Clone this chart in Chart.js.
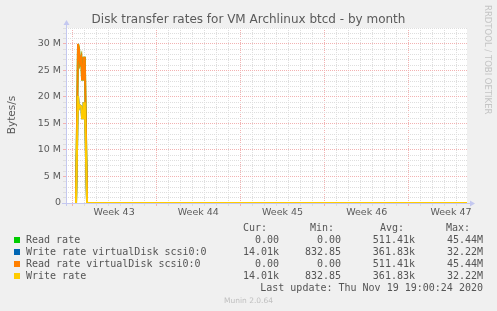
<!DOCTYPE html>
<html>
<head>
<meta charset="utf-8">
<script src="https://cdn.jsdelivr.net/npm/chart.js@4"></script>
<style>
  html, body { margin: 0; padding: 0; background: #f0f0f0; }
  #wrap { position: relative; width: 497px; height: 311px; overflow: hidden; font-family: 'DejaVu Sans', sans-serif; }
  canvas { position: absolute; left: 0; top: 0; }
  .txt { position: absolute; white-space: pre; line-height: 12px; }
  .mono { font-family: 'DejaVu Sans Mono', monospace; font-size: 10px; color: #555555; }
  .r { text-align: right; }
  .sw { position: absolute; width: 6px; height: 6px; }
</style>
</head>
<body>
<div id="wrap">
  <canvas id="graph" width="497" height="311"></canvas>
  <div class="txt" id="title" style="left:0;width:497px;top:13px;text-align:center;font-size:12px;color:#5a5a5a;">Disk transfer rates for VM Archlinux btcd - by month</div>
  <div class="txt" style="left:-14px;top:109px;width:50px;text-align:center;font-size:10.5px;color:#5a5a5a;transform:rotate(-90deg);">Bytes/s</div>
  <div class="txt" style="left:483px;top:5px;writing-mode:vertical-rl;font-size:8.5px;color:#c4c4c4;line-height:10px;">RRDTOOL / TOBI OETIKER</div>
  <div class="txt" style="left:0;width:497px;top:295px;text-align:center;font-size:7.5px;color:#c0c0c0;">Munin 2.0.64</div>
  <div id="legend"></div>
</div>
<script>
// Time axis: hours since the left edge of the graph
const hours = [20, 24, 26, 28, 30.5, 32, 34, 35, 37.5, 42, 800];
// Rates in millions of bytes per second
const readRate = [0, 30.0, 29.0, 26.4, 27.4, 23.3, 23.3, 27.4, 27.4, 0, 0];
const writeRate = [0, 20.2, 17.9, 18.4, 18.2, 16.0, 16.0, 18.8, 18.8, 0, 0];

// Week grid and labels
const weekStartHours = [12, 180, 348, 516, 684];
const weekLabelHours = [96, 264, 432, 600, 768];
const weekLabels = ['Week 43', 'Week 44', 'Week 45', 'Week 46', 'Week 47'];

// Y ticks (millions)
const yTickValues = [0, 5, 10, 15, 20, 25, 30];
const yTickLabels = ['0', '5 M', '10 M', '15 M', '20 M', '25 M', '30 M'];

// Legend
const seriesNames = ['Read rate', 'Write rate virtualDisk scsi0:0', 'Read rate virtualDisk scsi0:0', 'Write rate'];
const seriesColors = ['#00cc00', '#0066b3', '#ff8000', '#ffcc00'];
const curValues = ['0.00', '14.01k', '0.00', '14.01k'];
const minValues = ['0.00', '832.85', '0.00', '832.85'];
const avgValues = ['511.41k', '361.83k', '511.41k', '361.83k'];
const maxValues = ['45.44M', '32.22M', '45.44M', '32.22M'];
const lastUpdate = 'Last update: Thu Nov 19 19:00:24 2020';

const seriesData = [readRate, writeRate, readRate, writeRate];

const minorGrid = '#dedede';
const majorGrid = '#f2b2b2';
const axisColor = '#c4c8f0';

// Build legend
const legend = document.getElementById('legend');
function addText(text, left, top, right) {
  const d = document.createElement('div');
  d.className = 'txt mono' + (right ? ' r' : '');
  d.textContent = text;
  d.style.top = top + 'px';
  if (right) {
    d.style.left = (right - 300) + 'px';
    d.style.width = '300px';
  } else {
    d.style.left = left + 'px';
  }
  legend.appendChild(d);
}
addText('Cur:', 0, 222, 267);
addText('Min:', 0, 222, 334);
addText('Avg:', 0, 222, 404);
addText('Max:', 0, 222, 470);
seriesNames.forEach((name, i) => {
  const top = 234 + i * 12;
  const sw = document.createElement('div');
  sw.className = 'sw';
  sw.style.left = '14px';
  sw.style.top = (top + 3) + 'px';
  sw.style.background = seriesColors[i];
  legend.appendChild(sw);
  addText(name, 26, top);
  addText(curValues[i], 0, top, 279);
  addText(minValues[i], 0, top, 341);
  addText(avgValues[i], 0, top, 415);
  addText(maxValues[i], 0, top, 483);
});
addText(lastUpdate, 0, 282, 483);

// Plot background and axis arrows
const munin = {
  id: 'munin',
  beforeDraw(chart) {
    const a = chart.chartArea;
    const ctx = chart.ctx;
    ctx.save();
    ctx.fillStyle = '#ffffff';
    ctx.fillRect(a.left, a.top, a.right - a.left, a.bottom - a.top);
    ctx.restore();
  },
  afterDraw(chart) {
    const a = chart.chartArea;
    const ctx = chart.ctx;
    const x0 = Math.round(a.left) + 0.5;
    const y0 = Math.round(a.bottom) + 0.5;
    ctx.save();
    ctx.strokeStyle = axisColor;
    ctx.fillStyle = axisColor;
    ctx.lineWidth = 1;
    ctx.beginPath();
    ctx.moveTo(x0, a.bottom + 3);
    ctx.lineTo(x0, a.top - 4);
    ctx.moveTo(a.left - 4, y0);
    ctx.lineTo(a.right + 4, y0);
    ctx.stroke();
    ctx.beginPath();
    ctx.moveTo(x0, a.top - 8);
    ctx.lineTo(x0 - 3, a.top - 3);
    ctx.lineTo(x0 + 3, a.top - 3);
    ctx.closePath();
    ctx.fill();
    ctx.beginPath();
    ctx.moveTo(a.right + 8, y0);
    ctx.lineTo(a.right + 3, y0 - 3);
    ctx.lineTo(a.right + 3, y0 + 3);
    ctx.closePath();
    ctx.fill();
    ctx.restore();
  }
};

// Later series are drawn on top, as in munin
const datasets = seriesNames.map((name, i) => ({
  label: name,
  data: hours.map((h, j) => ({ x: h, y: seriesData[i][j] })),
  borderColor: seriesColors[i],
  borderWidth: 2,
  pointRadius: 0,
  tension: 0,
  fill: false,
  order: seriesNames.length - i
}));

new Chart(document.getElementById('graph'), {
  type: 'line',
  data: { datasets: datasets },
  plugins: [munin],
  options: {
    responsive: false,
    animation: false,
    parsing: false,
    devicePixelRatio: 1,
    layout: { padding: { left: 0, top: 28, right: 30, bottom: 88 } },
    plugins: { legend: { display: false }, title: { display: false }, tooltip: { enabled: false } },
    scales: {
      x: {
        type: 'linear',
        min: 0,
        max: 800,
        afterBuildTicks(scale) {
          const ticks = [];
          for (let h = 12; h <= 800; h += 24) ticks.push({ value: h });
          weekLabelHours.forEach((h) => ticks.push({ value: h }));
          ticks.sort((a, b) => a.value - b.value);
          scale.ticks = ticks;
        },
        afterFit(scale) { scale.height = 20; },
        grid: {
          color(ctx) {
            const v = ctx.tick && ctx.tick.value;
            if (weekLabelHours.includes(v)) return 'rgba(0,0,0,0)';
            return weekStartHours.includes(v) ? majorGrid : minorGrid;
          },
          tickLength: 3,
          drawTicks: true
        },
        border: { display: false, dash: [1, 1] },
        ticks: {
          autoSkip: false,
          maxRotation: 0,
          padding: 1,
          color: '#5a5a5a',
          font: { family: 'DejaVu Sans', size: 9.5 },
          callback(value) {
            const i = weekLabelHours.indexOf(value);
            return i >= 0 ? weekLabels[i] : '';
          }
        }
      },
      y: {
        min: 0,
        max: 33,
        afterBuildTicks(scale) {
          const ticks = [];
          for (let v = 0; v <= 33; v++) ticks.push({ value: v });
          scale.ticks = ticks;
        },
        afterFit(scale) { scale.width = 66; },
        grid: {
          color(ctx) {
            const v = ctx.tick && ctx.tick.value;
            if (v === 0) return 'rgba(0,0,0,0)';
            return yTickValues.includes(v) ? majorGrid : minorGrid;
          },
          tickLength: 3,
          drawTicks: true
        },
        border: { display: false, dash: [1, 1] },
        ticks: {
          autoSkip: false,
          padding: 2,
          color: '#5a5a5a',
          font: { family: 'DejaVu Sans', size: 9.5 },
          callback(value) {
            const i = yTickValues.indexOf(value);
            return i >= 0 ? yTickLabels[i] : '';
          }
        }
      }
    }
  }
});
</script>
</body>
</html>
